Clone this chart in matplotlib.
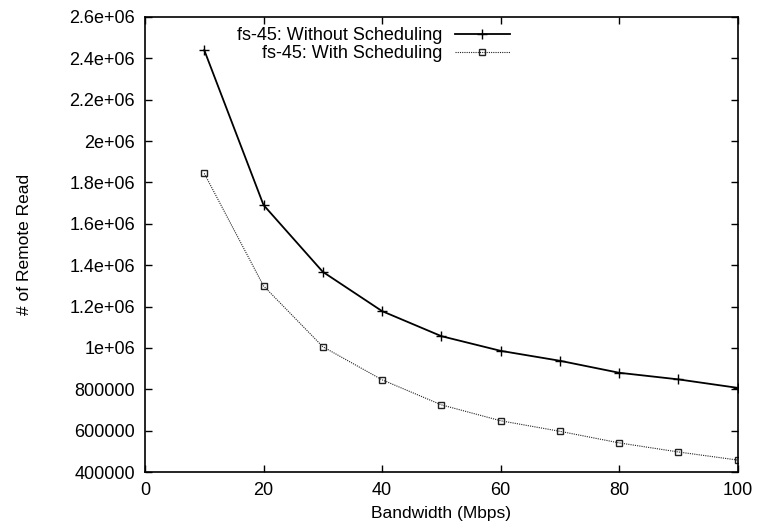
import matplotlib.pyplot as plt

plt.rcParams.update({
    "font.family": ["Liberation Sans", "DejaVu Sans"],
    "font.size": 13,
})

# Data
bandwidth = [10, 20, 30, 40, 50, 60, 70, 80, 90, 100]
without_sched = [2440000, 1691000, 1368000, 1178000, 1057000, 986000, 938000, 880000, 848000, 807000]
with_sched = [1844000, 1300000, 1006000, 846000, 725000, 648000, 597000, 541000, 497000, 458000]
y_ticks = [400000, 600000, 800000, 1000000, 1200000, 1400000, 1600000, 1800000,
           2000000, 2200000, 2400000, 2600000]
y_labels = ["400000", "600000", "800000", "1e+06", "1.2e+06", "1.4e+06", "1.6e+06",
            "1.8e+06", "2e+06", "2.2e+06", "2.4e+06", "2.6e+06"]

fig = plt.figure(figsize=(7.59, 5.31), dpi=100)
ax = fig.add_axes([0.191, 0.111, 0.781, 0.857])

ax.plot(bandwidth, without_sched, color="black", lw=1.3, marker="+", ms=7, mew=1.0,
        label="fs-45: Without Scheduling")
ax.plot(bandwidth, with_sched, color="#222222", lw=0.8, ls=(0, (1, 1)), marker="s", ms=5,
        mfc="none", mew=1.0, label="fs-45: With Scheduling")

ax.set_xlim(0, 100)
ax.set_ylim(400000, 2600000)
ax.set_xticks([0, 20, 40, 60, 80, 100])
ax.set_yticks(y_ticks)
ax.set_yticklabels(y_labels)
ax.tick_params(direction="in", top=True, right=True, length=5, width=1, pad=7)
for s in ax.spines.values():
    s.set_linewidth(1.2)

ax.set_xlabel("Bandwidth (Mbps)", labelpad=5, fontsize=12.5)
ax.set_ylabel("# of Remote Read", labelpad=27, fontsize=12.5)

ax.legend(loc="upper right", bbox_to_anchor=(0.688, 0.973), bbox_transform=fig.transFigure,
          frameon=False, markerfirst=False, handlelength=3.0, handletextpad=0.7,
          labelspacing=0.05, borderpad=0.2, fontsize=13)

fig.savefig("out.png", dpi=100)
